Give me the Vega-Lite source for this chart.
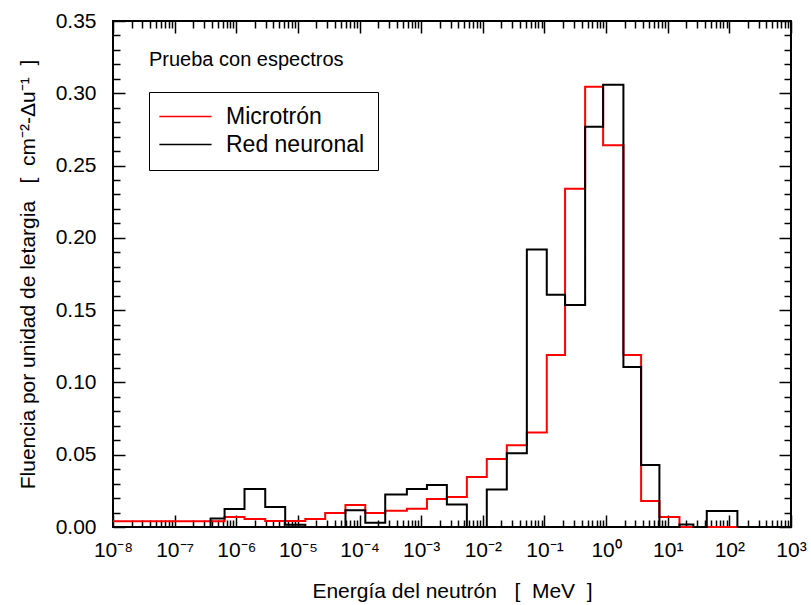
{
  "$schema": "https://vega.github.io/schema/vega-lite/v6.json",
  "autosize": {"type": "none"},
  "padding": {"left": 113, "top": 21, "right": 20, "bottom": 78},
  "width": 678,
  "height": 506,
  "background": "white",
  "config": {
    "font": "Liberation Sans",
    "view": {"stroke": "black", "strokeWidth": 2},
    "axis": {
      "domain": false, "tickColor": "black", "tickWidth": 1.5,
      "labelColor": "black", "titleColor": "black", "labelFont": "Liberation Sans",
      "titleFont": "Liberation Sans", "labelFontSize": 21, "titleFontSize": 21,
      "titleFontWeight": "normal", "grid": false, "labelFlush": false
    }
  },
  "title": {
    "text": "Prueba con espectros", "anchor": "start", "frame": "group", "orient": "top",
    "dx": 36, "dy": 64, "fontSize": 20, "fontWeight": "normal", "font": "Liberation Sans", "color": "black"
  },
  "data": {
    "values": [
      {"s": "Microtrón", "k": 0, "E": 1e-8, "v": 0.0039},
      {"s": "Microtrón", "k": 1, "E": 6.46e-7, "v": 0.0069},
      {"s": "Microtrón", "k": 2, "E": 1.36e-6, "v": 0.0055},
      {"s": "Microtrón", "k": 3, "E": 2.95e-6, "v": 0.0042},
      {"s": "Microtrón", "k": 4, "E": 6.22e-6, "v": 0.0042},
      {"s": "Microtrón", "k": 5, "E": 1.32e-5, "v": 0.0055},
      {"s": "Microtrón", "k": 6, "E": 2.77e-5, "v": 0.0097},
      {"s": "Microtrón", "k": 7, "E": 5.91e-5, "v": 0.0152},
      {"s": "Microtrón", "k": 8, "E": 1.24e-4, "v": 0.0097},
      {"s": "Microtrón", "k": 9, "E": 2.61e-4, "v": 0.0113},
      {"s": "Microtrón", "k": 10, "E": 5.86e-4, "v": 0.0127},
      {"s": "Microtrón", "k": 11, "E": 1.24e-3, "v": 0.0194},
      {"s": "Microtrón", "k": 12, "E": 2.61e-3, "v": 0.0208},
      {"s": "Microtrón", "k": 13, "E": 5.51e-3, "v": 0.0346},
      {"s": "Microtrón", "k": 14, "E": 1.16e-2, "v": 0.047},
      {"s": "Microtrón", "k": 15, "E": 2.45e-2, "v": 0.0566},
      {"s": "Microtrón", "k": 16, "E": 5.18e-2, "v": 0.0653},
      {"s": "Microtrón", "k": 17, "E": 0.109, "v": 0.119},
      {"s": "Microtrón", "k": 18, "E": 0.216, "v": 0.234},
      {"s": "Microtrón", "k": 19, "E": 0.457, "v": 0.3045},
      {"s": "Microtrón", "k": 20, "E": 0.895, "v": 0.2641},
      {"s": "Microtrón", "k": 21, "E": 1.91, "v": 0.119},
      {"s": "Microtrón", "k": 22, "E": 3.70, "v": 0.018},
      {"s": "Microtrón", "k": 23, "E": 7.33, "v": 0.0069},
      {"s": "Microtrón", "k": 24, "E": 15.5, "v": 0},
      {"s": "Microtrón", "k": 25, "E": 135, "v": 0},
      {"s": "Red neuronal", "k": 0, "E": 3.83e-7, "v": 0},
      {"s": "Red neuronal", "k": 1, "E": 3.83e-7, "v": 0.0058},
      {"s": "Red neuronal", "k": 2, "E": 6.46e-7, "v": 0.0125},
      {"s": "Red neuronal", "k": 3, "E": 1.36e-6, "v": 0.0263},
      {"s": "Red neuronal", "k": 4, "E": 2.95e-6, "v": 0.0138},
      {"s": "Red neuronal", "k": 5, "E": 6.22e-6, "v": 0.0015},
      {"s": "Red neuronal", "k": 6, "E": 1.32e-5, "v": 0},
      {"s": "Red neuronal", "k": 7, "E": 2.77e-5, "v": 0},
      {"s": "Red neuronal", "k": 8, "E": 5.91e-5, "v": 0.0116},
      {"s": "Red neuronal", "k": 9, "E": 1.24e-4, "v": 0.003},
      {"s": "Red neuronal", "k": 10, "E": 2.61e-4, "v": 0.0224},
      {"s": "Red neuronal", "k": 11, "E": 5.86e-4, "v": 0.0263},
      {"s": "Red neuronal", "k": 12, "E": 1.24e-3, "v": 0.029},
      {"s": "Red neuronal", "k": 13, "E": 2.61e-3, "v": 0.0155},
      {"s": "Red neuronal", "k": 14, "E": 5.51e-3, "v": 0},
      {"s": "Red neuronal", "k": 15, "E": 1.16e-2, "v": 0.026},
      {"s": "Red neuronal", "k": 16, "E": 2.45e-2, "v": 0.051},
      {"s": "Red neuronal", "k": 17, "E": 5.18e-2, "v": 0.192},
      {"s": "Red neuronal", "k": 18, "E": 0.109, "v": 0.1606},
      {"s": "Red neuronal", "k": 19, "E": 0.216, "v": 0.1536},
      {"s": "Red neuronal", "k": 20, "E": 0.457, "v": 0.2768},
      {"s": "Red neuronal", "k": 21, "E": 0.895, "v": 0.3059},
      {"s": "Red neuronal", "k": 22, "E": 1.91, "v": 0.1107},
      {"s": "Red neuronal", "k": 23, "E": 3.70, "v": 0.0429},
      {"s": "Red neuronal", "k": 24, "E": 7.33, "v": 0},
      {"s": "Red neuronal", "k": 25, "E": 15.5, "v": 0.0017},
      {"s": "Red neuronal", "k": 26, "E": 26.1, "v": 0},
      {"s": "Red neuronal", "k": 27, "E": 43.0, "v": 0.011},
      {"s": "Red neuronal", "k": 28, "E": 135, "v": 0}
    ]
  },
  "resolve": {"axis": {"x": "independent", "y": "independent"}},
  "layer": [
    {
      "mark": {"type": "point", "opacity": 0},
      "encoding": {
        "x": {"field": "E", "type": "quantitative", "scale": {"type": "log", "domain": [1e-8, 1000], "nice": false},
          "axis": {"orient": "bottom", "labels": false, "title": null, "offset": -7, "tickSize": 7,
            "values": [2e-8,3e-8,4e-8,5e-8,6e-8,7e-8,8e-8,9e-8,2e-7,3e-7,4e-7,5e-7,6e-7,7e-7,8e-7,9e-7,2e-6,3e-6,4e-6,5e-6,6e-6,7e-6,8e-6,9e-6,2e-5,3e-5,4e-5,5e-5,6e-5,7e-5,8e-5,9e-5,2e-4,3e-4,4e-4,5e-4,6e-4,7e-4,8e-4,9e-4,2e-3,3e-3,4e-3,5e-3,6e-3,7e-3,8e-3,9e-3,2e-2,3e-2,4e-2,5e-2,6e-2,7e-2,8e-2,9e-2,0.2,0.3,0.4,0.5,0.6,0.7,0.8,0.9,2,3,4,5,6,7,8,9,20,30,40,50,60,70,80,90,200,300,400,500,600,700,800,900]}},
        "y": {"field": "v", "type": "quantitative", "scale": {"domain": [0, 0.35], "nice": false},
          "axis": {"orient": "left", "labels": false, "title": null, "offset": -7, "tickSize": 7,
            "values": [0.01,0.02,0.03,0.04,0.06,0.07,0.08,0.09,0.11,0.12,0.13,0.14,0.16,0.17,0.18,0.19,0.21,0.22,0.23,0.24,0.26,0.27,0.28,0.29,0.31,0.32,0.33,0.34]}}
      }
    },
    {
      "mark": {"type": "point", "opacity": 0},
      "encoding": {
        "x": {"field": "E", "type": "quantitative",
          "axis": {"orient": "top", "labels": false, "title": null, "offset": -12, "tickSize": 12,
            "values": [1e-8,1e-7,1e-6,1e-5,1e-4,1e-3,1e-2,1e-1,1,10,100,1000]}},
        "y": {"field": "v", "type": "quantitative",
          "axis": {"orient": "right", "labels": false, "title": null, "offset": -12, "tickSize": 12,
            "values": [0,0.05,0.1,0.15,0.2,0.25,0.3,0.35]}}
      }
    },
    {
      "mark": {"type": "point", "opacity": 0},
      "encoding": {
        "x": {"field": "E", "type": "quantitative",
          "axis": {"orient": "top", "labels": false, "title": null, "offset": -7, "tickSize": 7,
            "values": [2e-8,3e-8,4e-8,5e-8,6e-8,7e-8,8e-8,9e-8,2e-7,3e-7,4e-7,5e-7,6e-7,7e-7,8e-7,9e-7,2e-6,3e-6,4e-6,5e-6,6e-6,7e-6,8e-6,9e-6,2e-5,3e-5,4e-5,5e-5,6e-5,7e-5,8e-5,9e-5,2e-4,3e-4,4e-4,5e-4,6e-4,7e-4,8e-4,9e-4,2e-3,3e-3,4e-3,5e-3,6e-3,7e-3,8e-3,9e-3,2e-2,3e-2,4e-2,5e-2,6e-2,7e-2,8e-2,9e-2,0.2,0.3,0.4,0.5,0.6,0.7,0.8,0.9,2,3,4,5,6,7,8,9,20,30,40,50,60,70,80,90,200,300,400,500,600,700,800,900]}},
        "y": {"field": "v", "type": "quantitative",
          "axis": {"orient": "right", "labels": false, "title": null, "offset": -7, "tickSize": 7,
            "values": [0.01,0.02,0.03,0.04,0.06,0.07,0.08,0.09,0.11,0.12,0.13,0.14,0.16,0.17,0.18,0.19,0.21,0.22,0.23,0.24,0.26,0.27,0.28,0.29,0.31,0.32,0.33,0.34]}}
      }
    },
    {
      "mark": {"type": "line", "interpolate": "step-after", "strokeWidth": 2},
      "encoding": {
        "x": {"field": "E", "type": "quantitative",
          "axis": {"orient": "bottom", "title": "Energía del neutrón\u00a0\u00a0\u00a0[\u00a0\u00a0MeV\u00a0\u00a0]", "offset": -12, "tickSize": 12,
            "labelPadding": 12, "titlePadding": 20,
            "values": [1e-8,1e-7,1e-6,1e-5,1e-4,1e-3,1e-2,1e-1,1,10,100,1000],
            "labelExpr": "'10' + (round(log(datum.value)/LN10) < 0 ? '⁻' : '') + ['⁰','¹','²','³','⁴','⁵','⁶','⁷','⁸','⁹'][abs(round(log(datum.value)/LN10))]"}},
        "y": {"field": "v", "type": "quantitative",
          "axis": {"orient": "left", "title": "Fluencia por unidad de letargia\u00a0\u00a0\u00a0[\u00a0\u00a0cm⁻²-Δu⁻¹\u00a0\u00a0]",
            "offset": -12, "tickSize": 12, "labelPadding": 17, "format": ".2f", "titlePadding": 17,
            "values": [0,0.05,0.1,0.15,0.2,0.25,0.3,0.35]}},
        "order": {"field": "k", "type": "quantitative"},
        "color": {"field": "s", "type": "nominal",
          "scale": {"domain": ["Microtrón", "Red neuronal"], "range": ["#ff0000", "#000000"]},
          "legend": {"orient": "none", "legendX": 36, "legendY": 71, "title": null, "strokeColor": "black",
            "padding": 13, "symbolType": "M-1.57,0H4.23", "symbolSize": 324, "symbolStrokeWidth": 1.5,
            "labelFontSize": 23, "labelFont": "Liberation Sans", "labelColor": "black", "labelOffset": 41,
            "rowPadding": 4, "labelExpr": "datum.label + '  '"}}
      }
    }
  ]
}
